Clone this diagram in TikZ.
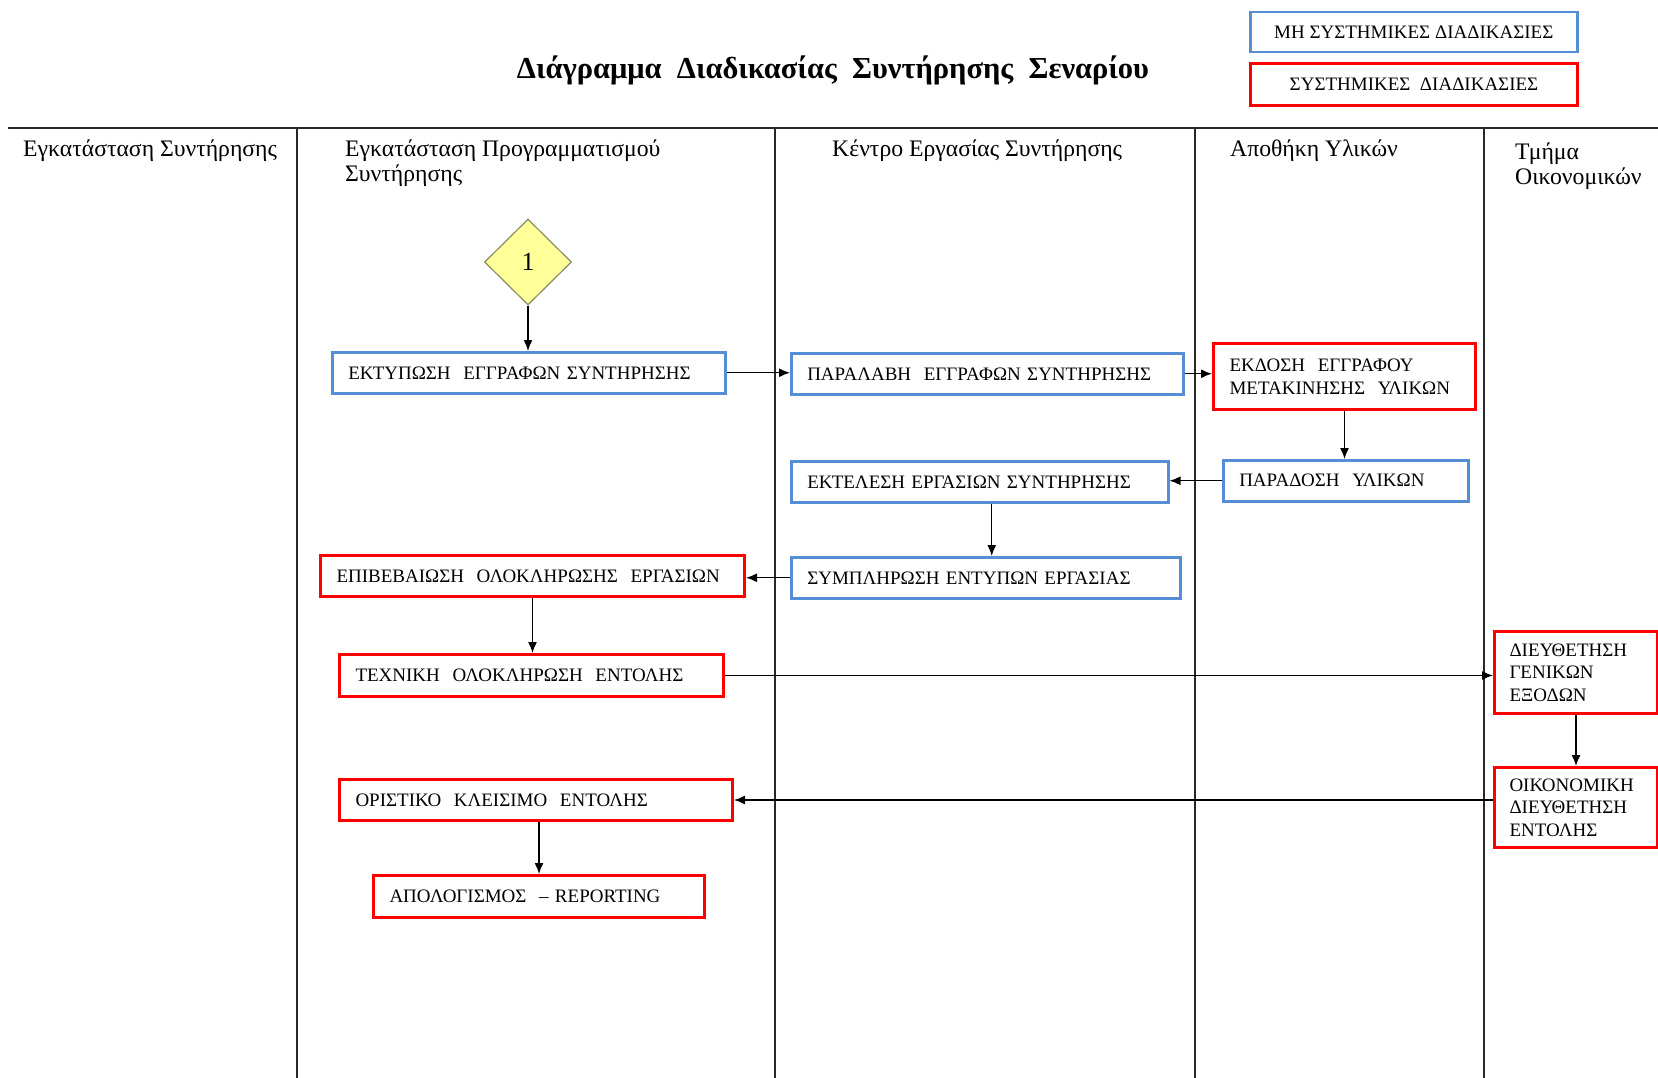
\documentclass[tikz,border=0pt]{standalone}
\usepackage{fontspec}
\setmainfont{Liberation Serif}
\usetikzlibrary{arrows.meta,shapes.geometric}
\definecolor{boxblue}{RGB}{85,142,213}
\definecolor{boxred}{RGB}{255,0,0}
\definecolor{dyellow}{RGB}{255,255,153}
\definecolor{dborder}{RGB}{140,140,100}
\definecolor{laneline}{RGB}{40,40,40}
\begin{document}
\begin{tikzpicture}[x=1pt,y=-1pt,
  base/.style={anchor=north west, inner xsep=16pt, inner ysep=0pt, align=left,
    font=\fontsize{19}{22.5}\selectfont},
  bluebox/.style={base, draw=boxblue, line width=2.5pt},
  redbox/.style={base, draw=boxred, line width=3pt},
  legend/.style={anchor=north west, inner sep=0pt, align=center,
    font=\fontsize{19}{22}\selectfont},
  arr/.style={-{Latex[length=11pt,width=9pt]}, line width=1.4pt},
  lane/.style={line width=1.3pt, draw=laneline},
  hdr/.style={anchor=base west, inner sep=0pt, font=\fontsize{23.7}{26}\selectfont}
]
\useasboundingbox (0,0) rectangle (1658,1078);
\fill[white] (0,0) rectangle (1658,1078);

% title and legend
\node[anchor=base, inner sep=0pt, font=\fontsize{30.5}{34}\selectfont\bfseries] (title) at (833,79)
  {Διάγραμμα\ \ Διαδικασίας\ \ Συντήρησης\ \ Σεναρίου};
\node[legend, draw=boxblue, line width=2.5pt, minimum width=327pt, minimum height=40pt] (lg1) at (1249,11)
  {ΜΗ ΣΥΣΤΗΜΙΚΕΣ ΔΙΑΔΙΚΑΣΙΕΣ};
\node[legend, draw=boxred, line width=3pt, minimum width=327pt, minimum height=42pt] (lg2) at (1249,62)
  {ΣΥΣΤΗΜΙΚΕΣ\ \ ΔΙΑΔΙΚΑΣΙΕΣ};

% lanes
\draw[lane] (8,128) -- (1658,128);
\foreach \x in {297,775,1195,1484} \draw[lane] (\x,128) -- (\x,1078);

% headers
\node[hdr] (h1) at (23,157) {Εγκατάσταση Συντήρησης};
\node[hdr] (h2a) at (345,157) {Εγκατάσταση Προγραμματισμού};
\node[hdr] (h2b) at (345,182) {Συντήρησης};
\node[hdr] (h3) at (832,157) {Κέντρο Εργασίας Συντήρησης};
\node[hdr] (h4) at (1230,157) {Αποθήκη Υλικών};
\node[hdr] (h5a) at (1515,160) {Τμήμα};
\node[hdr] (h5b) at (1515,185) {Οικονομικών};

% start diamond
\node[diamond, draw=dborder, fill=dyellow, line width=1.2pt, minimum width=87pt, minimum height=86pt,
  inner sep=0pt, font=\fontsize{26}{28}\selectfont] (d1) at (528,262) {1};

% process boxes
\node[bluebox, minimum width=393pt, minimum height=41pt, text width=361pt] (b1) at (331,351)
  {ΕΚΤΥΠΩΣΗ\ \ ΕΓΓΡΑΦΩΝ ΣΥΝΤΗΡΗΣΗΣ};
\node[bluebox, minimum width=392pt, minimum height=41pt, text width=360pt] (b2) at (790,352)
  {ΠΑΡΑΛΑΒΗ\ \ ΕΓΓΡΑΦΩΝ ΣΥΝΤΗΡΗΣΗΣ};
\node[redbox, minimum width=258pt, minimum height=66pt, text width=230pt] (b3) at (1212,342)
  {ΕΚΔΟΣΗ\ \ ΕΓΓΡΑΦΟΥ\\ΜΕΤΑΚΙΝΗΣΗΣ\ \ ΥΛΙΚΩΝ};
\node[bluebox, minimum width=245pt, minimum height=41pt, text width=213pt] (b4) at (1222,459)
  {ΠΑΡΑΔΟΣΗ\ \ ΥΛΙΚΩΝ};
\node[bluebox, minimum width=377pt, minimum height=41pt, text width=345pt] (b5) at (790,460)
  {ΕΚΤΕΛΕΣΗ ΕΡΓΑΣΙΩΝ ΣΥΝΤΗΡΗΣΗΣ};
\node[bluebox, minimum width=389pt, minimum height=41pt, text width=357pt] (b6) at (790,556)
  {ΣΥΜΠΛΗΡΩΣΗ ΕΝΤΥΠΩΝ ΕΡΓΑΣΙΑΣ};
\node[redbox, minimum width=424pt, minimum height=41pt, text width=392pt] (b7) at (319,554)
  {ΕΠΙΒΕΒΑΙΩΣΗ\ \ ΟΛΟΚΛΗΡΩΣΗΣ\ \ ΕΡΓΑΣΙΩΝ};
\node[redbox, minimum width=384pt, minimum height=42pt, text width=352pt] (b8) at (338,653)
  {ΤΕΧΝΙΚΗ\ \ ΟΛΟΚΛΗΡΩΣΗ\ \ ΕΝΤΟΛΗΣ};
\node[redbox, minimum width=163pt, minimum height=82pt, text width=133pt, inner xsep=15pt] (b9) at (1493,630)
  {ΔΙΕΥΘΕΤΗΣΗ\\ΓΕΝΙΚΩΝ\\ΕΞΟΔΩΝ};
\node[redbox, minimum width=163pt, minimum height=80pt, text width=133pt, inner xsep=15pt] (b10) at (1493,766)
  {ΟΙΚΟΝΟΜΙΚΗ\\ΔΙΕΥΘΕΤΗΣΗ\\ΕΝΤΟΛΗΣ};
\node[redbox, minimum width=393pt, minimum height=41pt, text width=361pt] (b11) at (338,778)
  {ΟΡΙΣΤΙΚΟ\ \ ΚΛΕΙΣΙΜΟ\ \ ΕΝΤΟΛΗΣ};
\node[redbox, minimum width=331pt, minimum height=42pt, text width=299pt] (b12) at (372,874)
  {ΑΠΟΛΟΓΙΣΜΟΣ\ \ – REPORTING};

% connectors
\draw[arr] (d1.south) -- (d1.south |- b1.north);
\draw[arr] (b1.east) -- (b1.east -| b2.west);
\draw[arr] (b2.east) -- (b2.east -| b3.west);
\draw[arr] (b3.south) -- (b3.south |- b4.north);
\draw[arr] (b4.west) -- (b4.west -| b5.east);
\draw[arr] ([xshift=12pt]b5.south) -- ([xshift=12pt]b5.south |- b6.north);
\draw[arr] (b6.west) -- (b6.west -| b7.east);
\draw[arr] (b7.south) -- (b7.south |- b8.north);
\draw[arr] (b8.east) -- (b8.east -| b9.west);
\draw[arr] (b9.south) -- (b9.south |- b10.north);
\draw[arr] (b10.west |- b11.east) -- (b11.east);
\draw[arr] (b12.north |- b11.south) -- (b12.north);
\end{tikzpicture}
\end{document}
